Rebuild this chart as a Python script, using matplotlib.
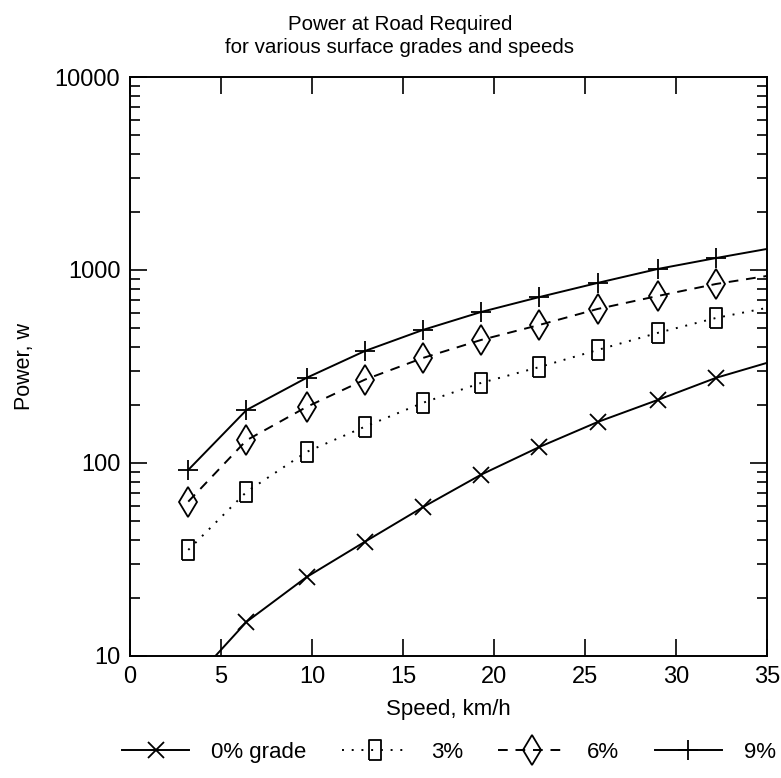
import matplotlib.pyplot as plt
from matplotlib.ticker import LogLocator, NullFormatter, FixedLocator

plt.rcParams["font.family"] = ["Liberation Sans", "DejaVu Sans"]

# speeds in km/h (2 mph steps) plus the end of the curve at 35 km/h
speed = [3.2, 6.4, 9.7, 12.9, 16.1, 19.3, 22.5, 25.7, 29.0, 32.2, 35.0]

power_0 = [7.0, 15, 25.6, 39, 59, 87, 121, 163, 212, 276, 330]
power_3 = [35.4, 70.8, 114, 154, 205, 260, 314, 385, 472, 564, 636]
power_6 = [63, 131, 195, 270, 350, 434, 519, 628, 733, 846, 931]
power_9 = [92, 188, 276, 380, 489, 606, 724, 857, 1012, 1153, 1285]

labels = ["0% grade", "3%", "6%", "9%"]

# tall narrow box used for the 3% markers
rect = [(-0.6, -1), (0.6, -1), (0.6, 1), (-0.6, 1), (-0.6, -1)]

fig = plt.figure(figsize=(7.81, 7.78), dpi=100)
ax = fig.add_axes([0.1665, 0.157, 0.8155, 0.744])

n = len(speed) - 1  # last point carries no marker
common = dict(color="black", linewidth=1.4, markerfacecolor="none",
              markeredgecolor="black", markevery=list(range(n)))

ax.plot(speed, power_0, linestyle="-", marker="x", markersize=12,
        markeredgewidth=1.3, label=labels[0], **common)
ax.plot(speed, power_3, linestyle=(0, (1, 4)), marker=rect, markersize=14,
        markeredgewidth=1.3, label=labels[1], **common)
ax.plot(speed, power_6, linestyle=(0, (5, 4)), marker="d", markersize=15,
        markeredgewidth=1.3, label=labels[2], **common)
ax.plot(speed, power_9, linestyle="-", marker="+", markersize=15,
        markeredgewidth=1.3, label=labels[3], **common)

ax.set_yscale("log")
ax.set_xlim(0, 35)
ax.set_ylim(10, 10000)
ax.xaxis.set_major_locator(FixedLocator([0, 5, 10, 15, 20, 25, 30, 35]))
ax.yaxis.set_major_locator(FixedLocator([10, 100, 1000, 10000]))
ax.yaxis.set_minor_locator(LogLocator(base=10, subs=range(2, 10)))
ax.yaxis.set_minor_formatter(NullFormatter())
ax.set_yticklabels(["10", "100", "1000", "10000"])

ax.tick_params(axis="both", which="major", direction="in", length=12,
               width=1.2, labelsize=17, top=True, right=True, pad=7)
ax.tick_params(axis="y", which="minor", direction="in", length=7,
               width=1.2, right=True)
for s in ax.spines.values():
    s.set_linewidth(1.4)

ax.set_xlabel("Speed, km/h", fontsize=16, labelpad=8)
ax.set_ylabel("Power, w", fontsize=15.5, labelpad=14)
fig.suptitle("Power at Road Required\nfor various surface grades and speeds",
             x=0.512, y=0.981, va="top", fontsize=14.8, linespacing=1.3)

fig.legend(loc="lower center", bbox_to_anchor=(0.575, -0.006), ncol=4,
           frameon=False, fontsize=16, handlelength=3.0, columnspacing=1.6,
           handletextpad=1.0)

fig.savefig("out.png", dpi=100)
